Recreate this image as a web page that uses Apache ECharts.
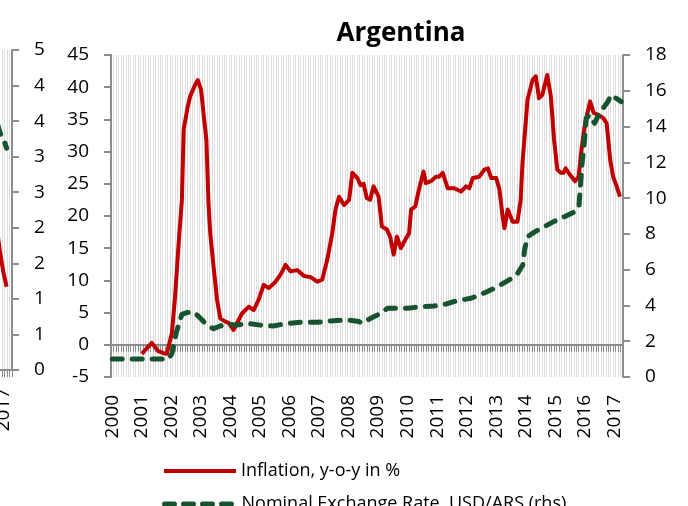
<!DOCTYPE html>
<html lang="en">
<head>
<meta charset="utf-8">
<title>Argentina</title>
<script src="https://cdn.jsdelivr.net/npm/echarts@6/dist/echarts.min.js"></script>
<style>
  html, body { margin: 0; padding: 0; background: #fff; }
  #main { width: 688px; height: 506px; }
</style>
</head>
<body>
<div id="main"></div>
<script type="text/javascript">
	// years on the category axis (monthly, Jan 2000 .. Apr 2017)
	var years = ['2000','2001','2002','2003','2004','2005','2006','2007','2008',
	             '2009','2010','2011','2012','2013','2014','2015','2016','2017'];
	var lastMonthCount = 4;   // 2017 runs to April

	// inflation, y-o-y in %  [decimal year, value]
	var inflation = [
		[2001.04,-1.4],[2001.38,0.3],[2001.6,-1.0],[2001.78,-1.3],[2001.89,-1.4],
		[2002.06,1.8],[2002.17,7.5],[2002.29,15.8],[2002.4,22.5],[2002.46,33.4],
		[2002.59,36.8],[2002.68,38.6],[2002.85,40.4],[2002.94,41.1],[2003.05,39.6],
		[2003.13,36.0],[2003.23,31.8],[2003.3,22.0],[2003.36,17.3],[2003.47,12.2],
		[2003.59,7.0],[2003.7,4.1],[2003.87,3.6],[2003.98,3.4],[2004.15,2.3],
		[2004.27,3.4],[2004.44,4.9],[2004.66,5.9],[2004.83,5.4],[2005.0,7.0],
		[2005.17,9.3],[2005.34,8.8],[2005.57,9.8],[2005.74,10.9],[2005.91,12.4],
		[2006.08,11.4],[2006.3,11.6],[2006.53,10.7],[2006.76,10.5],[2006.98,9.8],
		[2007.15,10.1],[2007.32,13.2],[2007.49,17.3],[2007.6,21.0],[2007.72,23.0],
		[2007.89,21.7],[2008.06,22.5],[2008.17,26.7],[2008.34,25.9],[2008.45,24.8],
		[2008.55,25.0],[2008.66,22.8],[2008.77,22.5],[2008.89,24.6],[2009.06,23.0],
		[2009.17,18.4],[2009.34,17.9],[2009.45,16.8],[2009.57,14.0],[2009.68,16.8],
		[2009.81,15.0],[2009.96,16.3],[2010.09,17.3],[2010.16,21.0],[2010.3,21.5],
		[2010.42,24.0],[2010.58,26.9],[2010.66,25.1],[2010.83,25.4],[2011.0,26.1],
		[2011.11,26.1],[2011.23,26.7],[2011.4,24.3],[2011.62,24.3],[2011.85,23.8],
		[2012.02,24.6],[2012.13,24.3],[2012.25,25.9],[2012.47,26.1],[2012.64,27.2],
		[2012.76,27.4],[2012.87,25.9],[2013.04,25.9],[2013.15,24.1],[2013.26,19.9],
		[2013.32,18.1],[2013.43,21.0],[2013.6,19.1],[2013.76,19.1],[2013.87,22.5],
		[2013.93,28.2],[2014.1,38.0],[2014.27,41.1],[2014.38,41.7],[2014.49,38.3],
		[2014.6,38.8],[2014.77,41.9],[2014.89,38.6],[2015.0,31.8],[2015.11,27.2],
		[2015.23,26.7],[2015.32,26.7],[2015.39,27.4],[2015.54,26.4],[2015.71,25.4],
		[2015.83,26.1],[2015.94,30.8],[2016.05,34.4],[2016.22,37.8],[2016.34,36.0],
		[2016.5,35.7],[2016.67,35.2],[2016.78,34.4],[2016.9,28.7],[2017.0,26.1],
		[2017.12,24.6],[2017.23,23.0]
	];

	// nominal exchange rate USD/ARS (rhs)  [decimal year, value]
	var exchangeRate = [
		[2000.04,1.0],[2001.95,1.0],[2002.06,1.3],[2002.23,2.6],[2002.4,3.5],
		[2002.57,3.6],[2002.79,3.65],[2003.02,3.3],[2003.25,2.9],[2003.47,2.7],
		[2003.7,2.85],[2003.93,2.96],[2004.27,2.9],[2004.6,3.0],[2005.05,2.9],
		[2005.5,2.85],[2005.84,2.96],[2006.4,3.06],[2006.98,3.06],[2007.54,3.15],
		[2008.0,3.19],[2008.39,3.1],[2008.5,3.0],[2008.79,3.28],[2009.13,3.56],
		[2009.36,3.84],[2009.7,3.84],[2010.04,3.84],[2010.49,3.93],[2010.94,3.97],
		[2011.34,4.08],[2011.73,4.27],[2012.19,4.4],[2012.64,4.7],[2013.09,5.05],
		[2013.55,5.5],[2013.77,5.8],[2013.94,6.26],[2014.0,7.1],[2014.1,7.84],
		[2014.33,8.1],[2014.67,8.4],[2015.0,8.7],[2015.35,8.96],[2015.7,9.24],
		[2015.84,9.5],[2015.89,10.6],[2015.94,11.8],[2016.03,13.25],[2016.09,14.46],
		[2016.2,14.65],[2016.37,14.18],[2016.48,14.55],[2016.65,15.0],[2016.82,15.39],
		[2016.93,15.76],[2017.1,15.58],[2017.27,15.39]
	];

	// neighbouring chart, only its last months are in view
	var sideInflation = [[2016.85,1.9],[2016.93,1.65],[2017.04,1.38],[2017.15,1.17]];
	var sideExchange = [[2016.85,3.45],[2016.93,3.33],[2017.04,3.26],[2017.15,3.12]];

	// month categories built from the years
	var months = [];
	years.forEach(function (y, i) {
		var n = (i === years.length - 1) ? lastMonthCount : 12;
		for (var m = 1; m <= n; m++) {
			months.push(y + '-' + (m < 10 ? '0' + m : m));
		}
	});
	var xEnd = 2000 + months.length / 12;

	var FONT = 'Open Sans';
	var GREY = '#8c8c8c';
	var RED = '#c00000';
	var GREEN = '#16532e';

	function yearLabelAxis(grid) {
		return {
			type: 'category', gridIndex: grid, data: months, position: 'bottom',
			axisLine: { show: false, onZero: false },
			axisTick: { show: false },
			axisLabel: {
				interval: function (i) { return i % 12 === 0; },
				formatter: function (v) { return v.slice(0, 4); },
				showMinLabel: true, showMaxLabel: true, hideOverlap: false,
				rotate: 90, margin: 18, fontSize: 19, color: '#000', fontFamily: FONT
			},
			splitLine: { show: true, interval: 0, lineStyle: { color: '#dcdcdc', width: 1 } }
		};
	}
	function bandAxis(grid) {
		return {
			type: 'category', gridIndex: grid, data: months, position: 'bottom',
			axisLine: { show: true, onZero: true, onZeroAxisIndex: grid === 0 ? 0 : 2,
				lineStyle: { color: GREY, width: 2 } },
			axisTick: { show: true, interval: 0, length: 7, lineStyle: { color: GREY, width: 1 } },
			axisLabel: { show: false },
			splitLine: { show: false }
		};
	}
	function valueAxis(grid, pos, min, max, step, split) {
		return {
			type: 'value', gridIndex: grid, position: pos, min: min, max: max, interval: step,
			axisLine: { show: true, onZero: false, lineStyle: { color: GREY, width: 2 } },
			axisTick: { show: true, length: 7, lineStyle: { color: GREY, width: 2 } },
			axisLabel: { margin: 22, fontSize: 19, color: '#000', fontFamily: FONT },
			splitLine: { show: split, lineStyle: { color: '#ffffff', width: 2 } }
		};
	}

	var sideY = valueAxis(1, 'right', 0, 4.5, 0.5, true);
	sideY.axisLabel.formatter = function (v) { return String(Math.round(v)); };

	function legendRow(name, top, lineStyle) {
		return {
			orient: 'horizontal', left: 162, top: top, padding: 0,
			itemWidth: 72, itemHeight: 14,
			data: [name],
			itemStyle: { opacity: 0 },
			lineStyle: lineStyle,
			textStyle: { fontFamily: FONT, fontSize: 18, color: '#000' }
		};
	}

	var myChart = echarts.init(document.getElementById('main'), null, { renderer: 'canvas' });

	var option = {
		animation: false,
		backgroundColor: '#ffffff',
		title: {
			text: 'Argentina', left: 396, top: 16, textAlign: 'center',
			textStyle: { fontFamily: FONT, fontSize: 26, fontWeight: 'bold', color: '#000' }
		},
		legend: [
			legendRow('Inflation, y-o-y in %', 462, { color: RED, width: 4 }),
			legendRow('Nominal Exchange Rate, USD/ARS (rhs)', 495,
				{ color: GREEN, width: 5, type: [10, 9], cap: 'round', opacity: 1 })
		],
		grid: [
			{ left: 111, right: 65, top: 55, bottom: 129, outerBoundsMode: 'none' },
			{ left: -500, width: 512, top: 50, height: 320, outerBoundsMode: 'none' }
		],
		xAxis: [
			yearLabelAxis(0),
			bandAxis(0),
			{ type: 'value', gridIndex: 0, min: 2000, max: xEnd, show: false },
			yearLabelAxis(1),
			bandAxis(1),
			{ type: 'value', gridIndex: 1, min: 2000, max: xEnd, show: false }
		],
		yAxis: [
			valueAxis(0, 'left', -5, 45, 5, true),
			valueAxis(0, 'right', 0, 18, 2, false),
			sideY
		],
		series: [
			{
				name: 'Inflation, y-o-y in %', type: 'line', xAxisIndex: 2, yAxisIndex: 0,
				symbol: 'none', data: inflation, color: RED,
				lineStyle: { color: RED, width: 4, join: 'round' }
			},
			{
				name: 'Nominal Exchange Rate, USD/ARS (rhs)', type: 'line', xAxisIndex: 2, yAxisIndex: 1,
				symbol: 'none', data: exchangeRate, color: GREEN,
				lineStyle: { color: GREEN, width: 5, type: [10, 10], cap: 'round', join: 'round' }
			},
			{
				name: 'side inflation', type: 'line', xAxisIndex: 5, yAxisIndex: 2,
				symbol: 'none', data: sideInflation, color: RED,
				lineStyle: { color: RED, width: 4, join: 'round' }
			},
			{
				name: 'side exchange', type: 'line', xAxisIndex: 5, yAxisIndex: 2,
				symbol: 'none', data: sideExchange, color: GREEN,
				lineStyle: { color: GREEN, width: 5, type: [10, 10], cap: 'round' }
			}
		]
	};

	myChart.setOption(option);
</script>
</body>
</html>
